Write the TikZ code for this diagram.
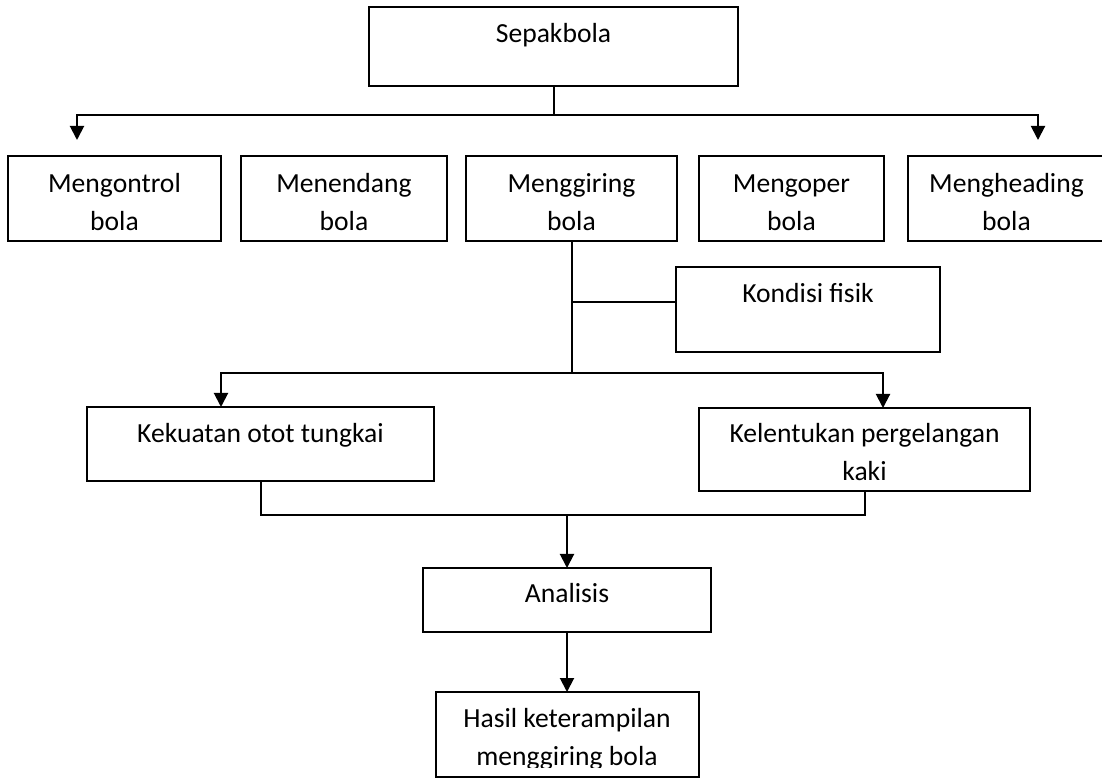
\documentclass[tikz,border=0pt]{standalone}
\usepackage{fontspec}
\setmainfont{Carlito}
\usetikzlibrary{arrows.meta}

\begin{document}
\begin{tikzpicture}[
        x=0.5pt, y=-0.5pt,
        line width=1pt,
        kotak/.style={draw, line width=1pt, anchor=north west, inner sep=0pt, outer sep=0pt, align=flush center, font=\fontsize{13.8}{19}\selectfont},
        panah/.style={-{Triangle[length=7pt, width=7pt]}}
    ]
    \useasboundingbox (0,0) rectangle (1102,779);

    % ==========================================
    % LEVEL 0: Sepakbola
    % ==========================================
    \node[kotak, text width=184.5pt, text height=18pt, text depth=21.5pt] (sepakbola) at (369,7) {Sepakbola};

    % ==========================================
    % LEVEL 1: teknik dasar
    % ==========================================
    \node[kotak, text width=106.5pt, text height=18.5pt, text depth=24pt] (kontrol) at (8,156) {Mengontrol\\bola};
    \node[kotak, text width=103pt, text height=18.5pt, text depth=24pt] (tendang) at (241,156) {Menendang\\bola};
    \node[kotak, text width=105.5pt, text height=18.5pt, text depth=24pt] (giring) at (466,156) {Menggiring\\bola};
    \node[kotak, text width=92.5pt, text height=18.5pt, text depth=24pt] (oper) at (699,156) {Mengoper\\bola};
    \node[kotak, text width=98.5pt, text height=18.5pt, text depth=24pt] (heading) at (908,156) {Mengheading\\bola};

    \coordinate (cabang1) at (553.5,115);
    \coordinate (ujungkiri) at (77,140);
    \coordinate (ujungkanan) at (1038,140);
    \draw (sepakbola.south) -- (cabang1);
    \draw[panah] (cabang1) -| (ujungkiri);
    \draw[panah] (cabang1) -| (ujungkanan);

    % ==========================================
    % LEVEL 2: Kondisi fisik
    % ==========================================
    \node[kotak, text width=132pt, text height=18pt, text depth=24.5pt] (kondisi) at (676,267) {Kondisi fisik};
    \node[kotak, text width=173.5pt, text height=18pt, text depth=19pt] (kekuatan) at (87,407) {Kekuatan otot tungkai};
    \node[kotak, text width=165.5pt, text height=17.5pt, text depth=24pt] (kelentukan) at (699,408) {Kelentukan pergelangan\\kaki};

    \coordinate (cabang2) at (571.5,373);
    \coordinate (kondisikiri) at ([yshift=3.5pt]kondisi.west);
    \draw (giring.south) -- (cabang2);
    \draw (kondisikiri) -- (kondisikiri -| giring.south);
    \draw[panah] (cabang2) -| ([xshift=67pt]kekuatan.north west);
    \draw[panah] (cabang2) -| ([xshift=92pt]kelentukan.north west);

    % ==========================================
    % LEVEL 3: Analisis dan hasil
    % ==========================================
    \node[kotak, text width=144pt, text height=17.5pt, text depth=14.5pt] (analisis) at (423,568) {Analisis};
    \begin{scope}
        \clip (435.5,692) rectangle (698.5,767);
        \node[kotak, draw=none, text width=131.5pt, text height=17.5pt, text depth=25pt] (hasil) at (435.5,692) {Hasil keterampilan\\menggiring bola};
    \end{scope}
    \draw (hasil.north west) rectangle (hasil.south east);

    \coordinate (cabang3) at (567,515);
    \draw (kekuatan.south) |- (kelentukan.south |- cabang3) -- (kelentukan.south);
    \draw[panah] (cabang3) -- (analisis.north);
    \draw[panah] (analisis.south) -- (hasil.north);

\end{tikzpicture}
\end{document}
